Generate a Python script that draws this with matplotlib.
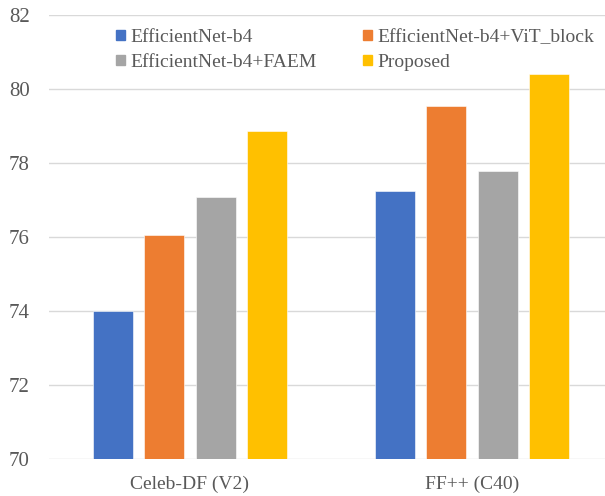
import matplotlib
matplotlib.use("Agg")
import matplotlib.pyplot as plt
import numpy as np
from matplotlib.patches import Patch

categories = ["Celeb-DF (V2)", "FF++ (C40)"]
series_names = ["EfficientNet-b4", "EfficientNet-b4+ViT_block", "EfficientNet-b4+FAEM", "Proposed"]
effnet = [74.0, 77.24]
effnet_vit = [76.05, 79.55]
effnet_faem = [77.08, 77.78]
proposed = [78.87, 80.41]
colors = ["#4472C4", "#ED7D31", "#A5A5A5", "#FFC000"]
yticks = [70, 72, 74, 76, 78, 80, 82]

plt.rcParams['font.family'] = ['Liberation Serif', 'DejaVu Serif']
fig = plt.figure(figsize=(6.05, 4.96), dpi=100)
ax = fig.add_axes([49/605, 1-459/496, 564/605, 444/496])

series = [effnet, effnet_vit, effnet_faem, proposed]
x = np.arange(len(categories))
step = 51.5/282
width = 40/282
for i, (vals, c) in enumerate(zip(series, colors)):
    ax.bar(x + (i-1.5)*step, vals, width=width, color=c, bottom=0, zorder=3,
           edgecolor='white', linewidth=0.4)

ax.set_ylim(70, 82)
ax.set_xlim(-0.5, 1.5)
ax.set_yticks(yticks)
ax.set_xticks(x)
ax.set_xticklabels(categories)
ax.grid(axis='y', color='#D9D9D9', linewidth=1, zorder=0)
for s in ax.spines.values():
    s.set_visible(False)
ax.tick_params(axis='both', length=0, colors='#595959')
ax.tick_params(axis='x', pad=12, labelsize=14)
ax.tick_params(axis='y', pad=14, labelsize=15)

handles = [Patch(color=c) for c in colors]
order = [0, 2, 1, 3]
leg = fig.legend([handles[i] for i in order], [series_names[i] for i in order],
                 ncol=2, frameon=False, loc='upper left',
                 bbox_to_anchor=(116/605, 1-29/496), fontsize=14,
                 handlelength=0.47, handleheight=0.47, handletextpad=0.25,
                 columnspacing=2.4, labelspacing=0.4, borderaxespad=0, borderpad=0)
for t in leg.get_texts():
    t.set_color('#595959')

fig.savefig("out.png", dpi=100)
